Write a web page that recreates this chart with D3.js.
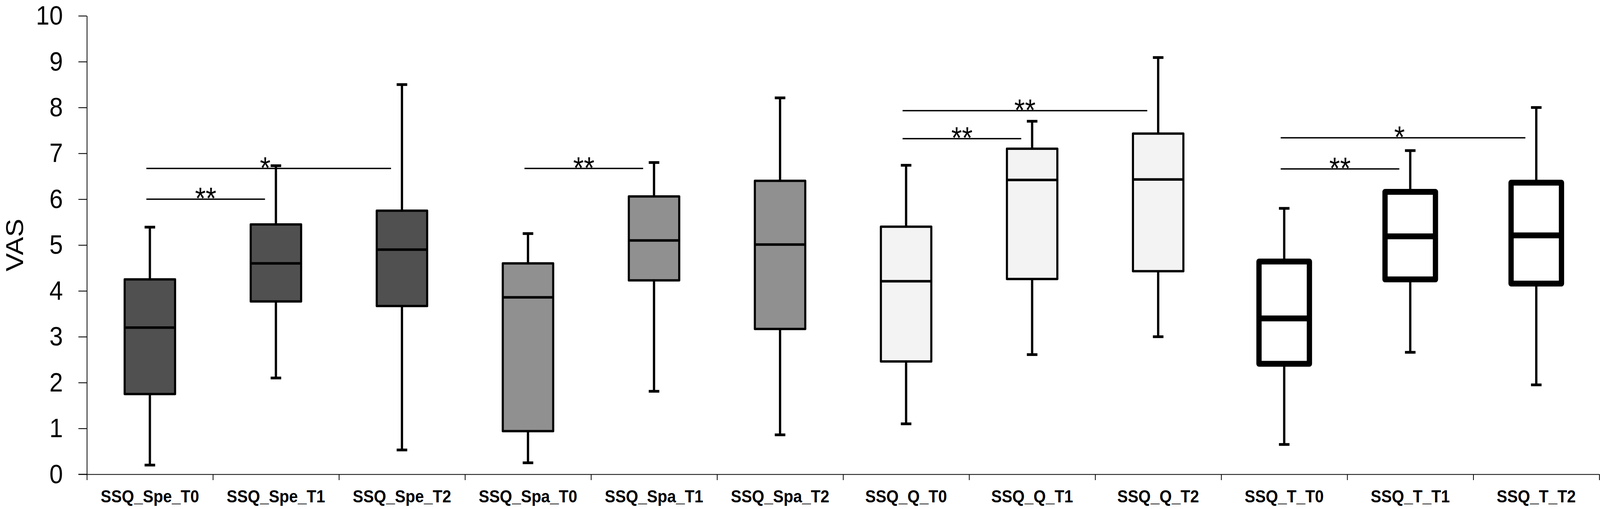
<!DOCTYPE html>
<html>
<head>
<meta charset="utf-8">
<script src="https://cdn.jsdelivr.net/npm/d3@7"></script>
<style>
  html, body { margin: 0; padding: 0; width: 100%; height: 100%; background: #fff; overflow: hidden; }
  svg { display: block; width: 100vw; height: 100vh; font-family: Arial, "Liberation Sans", sans-serif; }
</style>
</head>
<body>
<svg id="chart" viewBox="0 0 4550 1304" preserveAspectRatio="none"></svg>
<script>
// box plot values
const categories = ["SSQ_Spe_T0", "SSQ_Spe_T1", "SSQ_Spe_T2",
  "SSQ_Spa_T0", "SSQ_Spa_T1", "SSQ_Spa_T2",
  "SSQ_Q_T0", "SSQ_Q_T1", "SSQ_Q_T2",
  "SSQ_T_T0", "SSQ_T_T1", "SSQ_T_T2"];
const whiskerLow  = [0.20, 2.10, 0.53, 0.25, 1.81, 0.86, 1.10, 2.61, 3.00, 0.65, 2.66, 1.95];
const q1          = [1.75, 3.77, 3.67, 0.94, 4.23, 3.17, 2.46, 4.26, 4.43, 2.41, 4.25, 4.16];
const median      = [3.20, 4.60, 4.90, 3.86, 5.10, 5.01, 4.21, 6.42, 6.43, 3.40, 5.19, 5.21];
const q3          = [4.25, 5.45, 5.75, 4.60, 6.06, 6.40, 5.40, 7.10, 7.43, 4.64, 6.16, 6.36];
const whiskerHigh = [5.39, 6.73, 8.50, 5.25, 6.80, 8.21, 6.74, 7.70, 9.09, 5.80, 7.06, 8.00];

// significance brackets
const sigFrom  = [0, 0, 3, 6, 6, 9, 9];
const sigTo    = [1, 2, 4, 7, 8, 10, 11];
const sigY     = [6.00, 6.67, 6.67, 7.32, 7.93, 6.66, 7.34];
const sigLabel = ["**", "*", "**", "**", "**", "**", "*"];

const yTicks = d3.range(0, 11);

// styles per group of three boxes
const groupFill = ["#505050", "#909090", "#f3f3f3", "#ffffff"];
const groupStroke = [6, 6, 6, 15];
const medianStroke = [6.5, 6.5, 6.5, 15];

const svg = d3.select("#chart");
const plotLeft = 247, plotRight = 4548, plotTop = 40.5, plotBottom = 1215;

svg.append("rect").attr("width", 4550).attr("height", 1304).attr("fill", "#fff");

const x = d3.scaleBand().domain(categories).range([plotLeft, plotRight]).padding(0);
const xEdge = d3.scaleLinear().domain([0, categories.length]).range([plotLeft, plotRight]);
const y = d3.scaleLinear().domain([0, 10]).range([plotBottom, plotTop]);

const boxW = x.bandwidth() * 0.40;
const capW = 30;

// y axis
const yAxis = svg.append("g")
  .attr("transform", `translate(${plotLeft},0)`)
  .call(d3.axisLeft(y).tickValues(yTicks).tickSize(24).tickSizeOuter(0).tickPadding(44));
yAxis.select(".domain").attr("stroke", "#000").attr("stroke-width", 2.2);
yAxis.selectAll(".tick line").attr("stroke", "#000").attr("stroke-width", 2.2);
yAxis.selectAll(".tick text")
  .attr("font-size", 69)
  .attr("font-family", "Arial, 'Liberation Sans', sans-serif")
  .attr("fill", "#000");

// x axis: ticks at category edges, labels centred
const xAxis = svg.append("g")
  .attr("transform", `translate(0,${plotBottom})`)
  .call(d3.axisBottom(xEdge).ticks(categories.length).tickSize(15).tickSizeOuter(0).tickFormat(""));
xAxis.select(".domain").attr("stroke", "#000").attr("stroke-width", 2.2);
xAxis.selectAll(".tick line").attr("stroke", "#000").attr("stroke-width", 2.2);

svg.append("line")
  .attr("x1", plotLeft - 24).attr("x2", plotLeft)
  .attr("y1", plotBottom).attr("y2", plotBottom)
  .attr("stroke", "#000").attr("stroke-width", 2.2);

svg.append("g").selectAll("text")
  .data(categories)
  .join("text")
  .attr("x", d => x(d) + x.bandwidth() / 2)
  .attr("y", 1287)
  .attr("text-anchor", "middle")
  .attr("font-size", 45)
  .attr("font-weight", "bold")
  .attr("fill", "#000")
  .text(d => d);

svg.append("text")
  .attr("transform", `translate(${65},${y(5)}) rotate(-90)`)
  .attr("text-anchor", "middle")
  .attr("font-size", 70)
  .attr("fill", "#000")
  .text("VAS");

// boxes
const boxes = svg.append("g").selectAll("g")
  .data(categories)
  .join("g")
  .attr("transform", d => `translate(${x(d) + x.bandwidth() / 2},0)`);

boxes.append("line")
  .attr("y1", (d, i) => y(whiskerLow[i]))
  .attr("y2", (d, i) => y(whiskerHigh[i]))
  .attr("stroke", "#000").attr("stroke-width", 6.5);

boxes.append("line")
  .attr("x1", -capW / 2).attr("x2", capW / 2)
  .attr("y1", (d, i) => y(whiskerHigh[i])).attr("y2", (d, i) => y(whiskerHigh[i]))
  .attr("stroke", "#000").attr("stroke-width", 7);

boxes.append("line")
  .attr("x1", -capW / 2).attr("x2", capW / 2)
  .attr("y1", (d, i) => y(whiskerLow[i])).attr("y2", (d, i) => y(whiskerLow[i]))
  .attr("stroke", "#000").attr("stroke-width", 7);

boxes.append("rect")
  .attr("x", -boxW / 2)
  .attr("width", boxW)
  .attr("y", (d, i) => y(q3[i]))
  .attr("height", (d, i) => y(q1[i]) - y(q3[i]))
  .attr("fill", (d, i) => groupFill[Math.floor(i / 3)])
  .attr("stroke", "#000")
  .attr("stroke-linejoin", "round")
  .attr("stroke-width", (d, i) => groupStroke[Math.floor(i / 3)]);

boxes.append("line")
  .attr("x1", -boxW / 2).attr("x2", boxW / 2)
  .attr("y1", (d, i) => y(median[i])).attr("y2", (d, i) => y(median[i]))
  .attr("stroke", "#000")
  .attr("stroke-width", (d, i) => medianStroke[Math.floor(i / 3)]);

// significance lines
const cx = i => x(categories[i]) + x.bandwidth() / 2;
const sig = svg.append("g").selectAll("g")
  .data(sigLabel)
  .join("g");

sig.append("line")
  .attr("x1", (d, i) => cx(sigFrom[i]) - 10)
  .attr("x2", (d, i) => cx(sigTo[i]) - 31)
  .attr("y1", (d, i) => y(sigY[i]))
  .attr("y2", (d, i) => y(sigY[i]))
  .attr("stroke", "#000").attr("stroke-width", 3.5);

sig.append("text")
  .attr("x", (d, i) => (cx(sigFrom[i]) - 10 + cx(sigTo[i]) - 31) / 2 - (d.length === 1 ? 10 : 0))
  .attr("y", (d, i) => y(sigY[i]) + 25)
  .attr("text-anchor", "middle")
  .attr("font-size", 78)
  .attr("fill", "#000")
  .text(d => d);
</script>
</body>
</html>
